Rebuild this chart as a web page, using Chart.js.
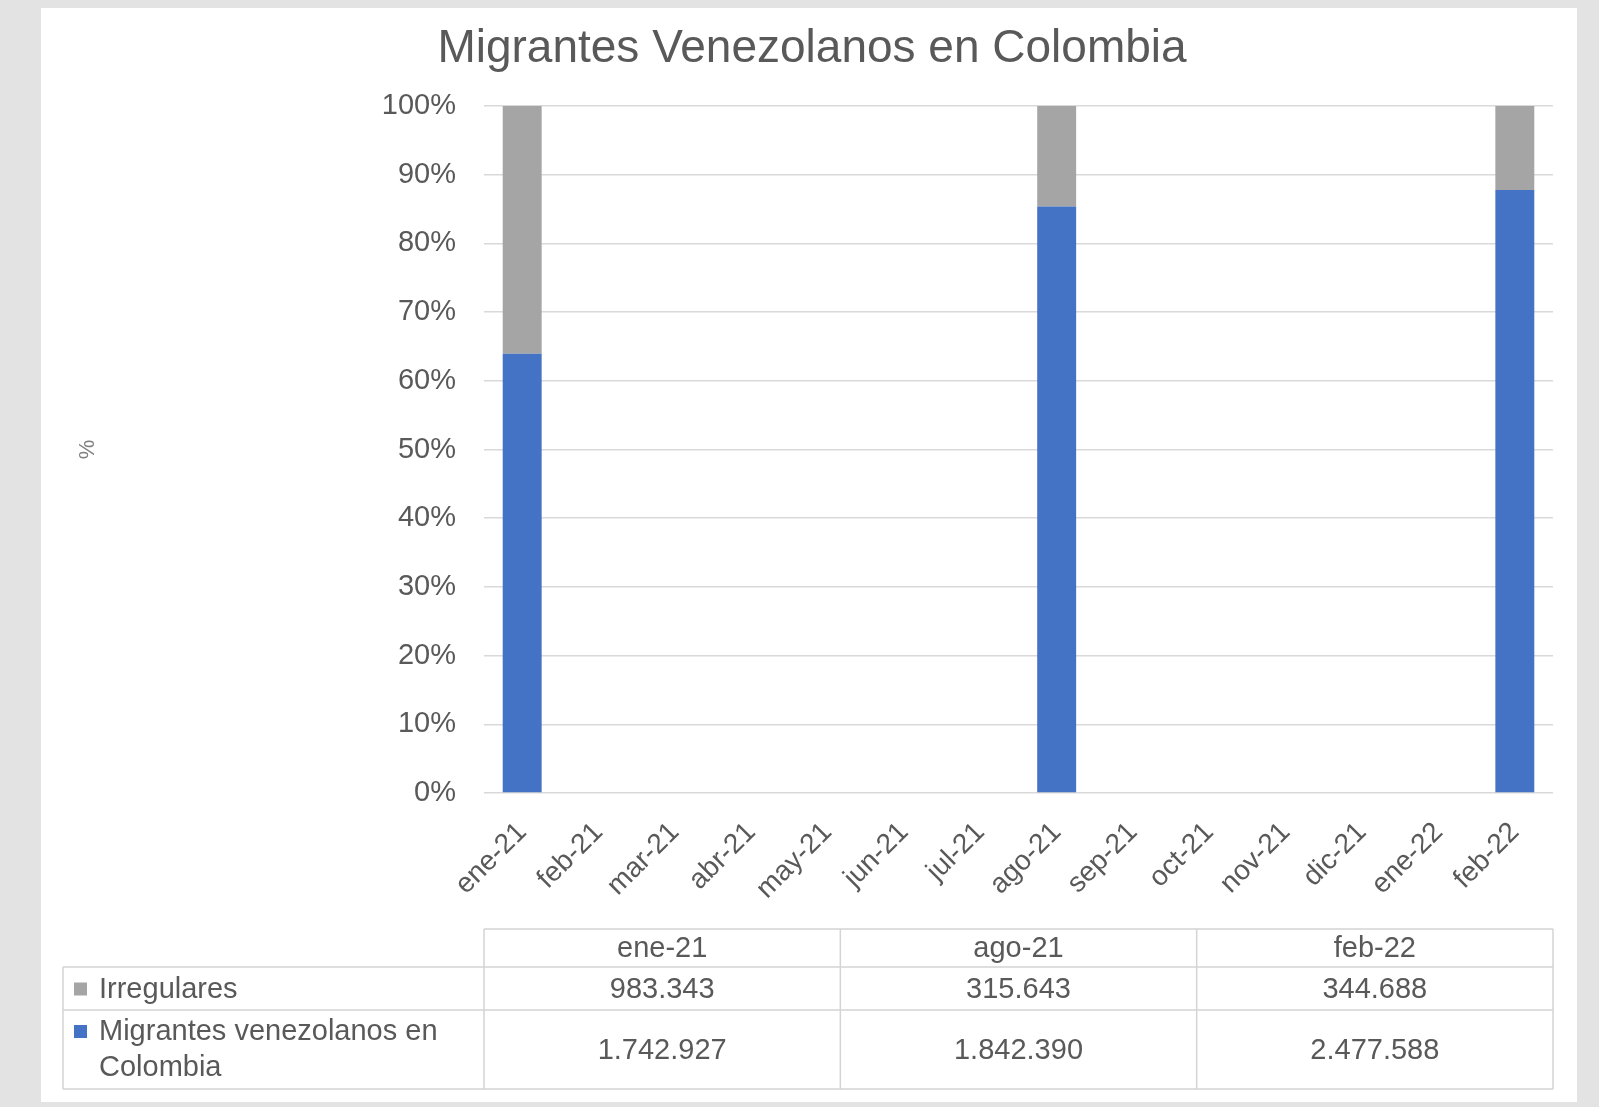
<!DOCTYPE html>
<html lang="es">
<head>
<meta charset="utf-8">
<title>Migrantes Venezolanos en Colombia</title>
<script src="https://cdn.jsdelivr.net/npm/chart.js@4.4.0/dist/chart.umd.min.js"></script>
<style>
    html, body {
        margin: 0;
        padding: 0;
        background: #e3e3e3;
        width: 1599px;
        height: 1107px;
        overflow: hidden;
    }
    #panel {
        position: absolute;
        left: 41px;
        top: 8px;
        width: 1536px;
        height: 1094px;
        background: #ffffff;
    }
</style>
</head>
<body>
<div id="panel">
    <canvas id="migrantesChart"></canvas>
</div>
<script>
// Eje X: meses
const months = ['ene-21', 'feb-21', 'mar-21', 'abr-21', 'may-21', 'jun-21', 'jul-21',
    'ago-21', 'sep-21', 'oct-21', 'nov-21', 'dic-21', 'ene-22', 'feb-22'];

// Meses con datos (tabla inferior)
const dataMonths = ['ene-21', 'ago-21', 'feb-22'];
const irregulares = [983343, 315643, 344688];
const migrantes = [1742927, 1842390, 2477588];

// Ticks del eje Y (%)
const yTicks = [0, 10, 20, 30, 40, 50, 60, 70, 80, 90, 100];

const BLUE = '#4472c4';
const GRAY = '#a5a5a5';
const TEXT = '#595959';
const FONT = '"Liberation Sans", Arial, sans-serif';

// 100% apilado: porcentaje por mes, null donde no hay dato
function shareFor(series) {
    return months.map(m => {
        const i = dataMonths.indexOf(m);
        if (i < 0) return null;
        return series[i] / (irregulares[i] + migrantes[i]) * 100;
    });
}

function formatNum(n) {
    return String(n).replace(/\B(?=(\d{3})+(?!\d))/g, '.');
}

// Tabla de datos bajo el gráfico
const dataTablePlugin = {
    id: 'dataTable',
    afterDraw(chart) {
        const ctx = chart.ctx;
        const area = chart.chartArea;
        const colW = (area.right - area.left) / dataMonths.length;
        const labelLeft = 22;
        const headTop = area.bottom + 136;
        const row1Top = area.bottom + 174;
        const row2Top = area.bottom + 217;
        const tableBottom = area.bottom + 296;

        ctx.save();
        ctx.strokeStyle = '#d4d4d4';
        ctx.lineWidth = 1.5;
        ctx.beginPath();
        // bordes horizontales
        ctx.moveTo(area.left, headTop); ctx.lineTo(area.right, headTop);
        [row1Top, row2Top, tableBottom].forEach(y => {
            ctx.moveTo(labelLeft, y); ctx.lineTo(area.right, y);
        });
        // bordes verticales
        ctx.moveTo(labelLeft, row1Top); ctx.lineTo(labelLeft, tableBottom);
        for (let c = 0; c <= dataMonths.length; c++) {
            const x = area.left + c * colW;
            ctx.moveTo(x, headTop); ctx.lineTo(x, tableBottom);
        }
        ctx.stroke();

        ctx.fillStyle = TEXT;
        ctx.font = '29px ' + FONT;
        ctx.textAlign = 'center';
        ctx.textBaseline = 'middle';
        dataMonths.forEach((m, i) => {
            const cx = area.left + (i + 0.5) * colW;
            ctx.fillText(m, cx, (headTop + row1Top) / 2 + 1);
            ctx.fillText(formatNum(irregulares[i]), cx, (row1Top + row2Top) / 2 + 1);
            ctx.fillText(formatNum(migrantes[i]), cx, (row2Top + tableBottom) / 2 + 1);
        });

        // etiquetas de serie con su clave de color
        ctx.textAlign = 'left';
        ctx.fillStyle = GRAY;
        ctx.fillRect(labelLeft + 11, (row1Top + row2Top) / 2 - 6, 13, 13);
        ctx.fillStyle = BLUE;
        ctx.fillRect(labelLeft + 11, row2Top + 15, 13, 13);
        ctx.fillStyle = TEXT;
        ctx.fillText('Irregulares', labelLeft + 36, (row1Top + row2Top) / 2 + 1);
        ctx.fillText('Migrantes venezolanos en', labelLeft + 36, row2Top + 22);
        ctx.fillText('Colombia', labelLeft + 36, row2Top + 58);
        ctx.restore();
    }
};

document.addEventListener('DOMContentLoaded', function () {
    const el = document.getElementById('migrantesChart');

    new Chart(el.getContext('2d'), {
        type: 'bar',
        data: {
            labels: months,
            datasets: [{
                label: 'Migrantes venezolanos en Colombia',
                data: shareFor(migrantes),
                backgroundColor: BLUE,
                categoryPercentage: 1,
                barPercentage: 0.51
            }, {
                label: 'Irregulares',
                data: shareFor(irregulares),
                backgroundColor: GRAY,
                categoryPercentage: 1,
                barPercentage: 0.51
            }]
        },
        options: {
            responsive: true,
            maintainAspectRatio: false,
            animation: false,
            layout: {
                padding: { left: 30, right: 24, top: 0, bottom: 200 }
            },
            plugins: {
                legend: { display: false },
                tooltip: { enabled: false },
                title: {
                    display: true,
                    text: 'Migrantes Venezolanos en Colombia',
                    color: TEXT,
                    font: { family: FONT, size: 46, weight: 'normal' },
                    padding: { top: 14, bottom: 28.8 }
                }
            },
            scales: {
                x: {
                    stacked: true,
                    grid: { display: false },
                    border: { display: false },
                    ticks: {
                        color: TEXT,
                        font: { family: FONT, size: 28 },
                        minRotation: 45,
                        maxRotation: 45,
                        autoSkip: false,
                        padding: 15
                    },
                    afterFit: function (scale) {
                        scale.height = 109;
                    }
                },
                y: {
                    stacked: true,
                    min: 0,
                    max: 100,
                    afterBuildTicks: function (scale) {
                        scale.ticks = yTicks.map(v => ({ value: v }));
                    },
                    grid: {
                        color: '#d9d9d9',
                        lineWidth: 1.5,
                        drawTicks: false
                    },
                    border: { display: false },
                    ticks: {
                        color: TEXT,
                        font: { family: FONT, size: 29 },
                        padding: 28,
                        callback: function (v) { return v + '%'; }
                    },
                    title: {
                        display: true,
                        text: '%',
                        color: '#808080',
                        font: { family: FONT, size: 22 },
                        padding: { top: 4, bottom: 0 }
                    },
                    afterFit: function (scale) {
                        scale.width = 413;
                    }
                }
            }
        },
        plugins: [dataTablePlugin]
    });
});
</script>
</body>
</html>
